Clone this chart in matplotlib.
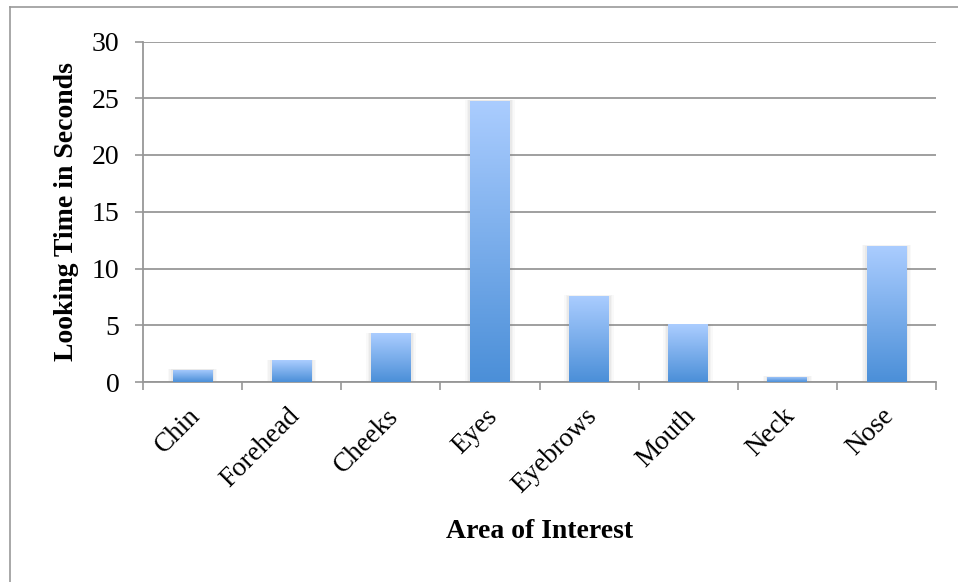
import matplotlib
matplotlib.use("Agg")
import matplotlib.pyplot as plt
import numpy as np
from matplotlib.colors import LinearSegmentedColormap
from matplotlib.patches import Rectangle
from matplotlib.lines import Line2D
from matplotlib.transforms import ScaledTranslation

categories = ["Chin", "Forehead", "Cheeks", "Eyes", "Eyebrows", "Mouth", "Neck", "Nose"]
values = [1.1, 1.9, 4.3, 24.8, 7.6, 5.1, 0.45, 12.0]
yticks = [0, 5, 10, 15, 20, 25, 30]

plt.rcParams['font.family'] = ['Liberation Serif', 'DejaVu Serif']

W, H = 958, 582
fig = plt.figure(figsize=(W / 100, H / 100), dpi=100)
ax = fig.add_axes([143 / W, 1 - 382 / H, (936 - 143) / W, (382 - 41.5) / H])

grid_c = "#979797"
cmap = LinearSegmentedColormap.from_list("g", ["#4b8fd8", "#abcdff"])
grad = np.linspace(0, 1, 256).reshape(-1, 1)

x = np.arange(len(categories))
bw = 0.4
bars = ax.bar(x, values, width=bw, color="none", zorder=3)
for b in bars:
    x0, y0 = b.get_x(), b.get_y()
    w, h = b.get_width(), b.get_height()
    # soft shadow
    for k, a in zip([0.05, 0.035, 0.02], [0.04, 0.05, 0.07]):
        ax.add_patch(Rectangle((x0 - k, y0), w + 2 * k, h + k * 1.0, facecolor="#7f7f7f",
                               alpha=a, edgecolor="none", zorder=2.5))
    im = ax.imshow(grad, extent=[x0, x0 + w, y0, y0 + h], origin="lower",
                   cmap=cmap, aspect="auto", zorder=3)
    im.set_clip_path(b)

ax.set_xlim(-0.5, len(categories) - 0.5)
ax.set_ylim(0, 30)
ax.set_yticks(yticks)
ax.set_yticklabels([str(t) for t in yticks], fontsize=20)
ax.set_xticks(x)
ax.set_xticklabels(categories, fontsize=19.5, rotation=45, ha="right",
                   rotation_mode="anchor")
ax.tick_params(axis="x", which="major", length=0, pad=12)
off = ScaledTranslation(-5 / 100, -5 / 100, fig.dpi_scale_trans)
for lbl in ax.get_xticklabels():
    lbl.set_transform(lbl.get_transform() + off)
ax.set_xticks(np.arange(-0.5, len(categories)), minor=True)
ax.tick_params(axis="x", which="minor", length=5.8, width=1.2, color=grid_c, direction="out")
ax.tick_params(axis="y", length=5.8, width=1.2, color=grid_c, direction="out", pad=11)

ax.yaxis.grid(True, color=grid_c, linewidth=1.3, zorder=0)
ax.set_axisbelow(True)
for s in ["top", "right"]:
    ax.spines[s].set_visible(False)
for s in ["left", "bottom"]:
    ax.spines[s].set_color(grid_c)
    ax.spines[s].set_linewidth(1.3)
ax.spines["left"].set_bounds(0, 30)

ax.set_ylabel("Looking Time in Seconds", fontsize=20, fontweight="bold")
ax.yaxis.label.set_va("center")
ax.yaxis.set_label_coords((67 - 143) / (936 - 143), 0.5)
ax.set_xlabel("Area of Interest", fontsize=20, fontweight="bold")
ax.xaxis.label.set_va("center")
ax.xaxis.set_label_coords(0.5, -(531 - 382) / (382 - 41.5))

# outer frame (top and left edges)
fig.add_artist(Line2D([9.5 / W, 1], [1 - 6.5 / H, 1 - 6.5 / H], color="#999999", lw=1.2,
                      transform=fig.transFigure))
fig.add_artist(Line2D([9.5 / W, 9.5 / W], [0, 1 - 6.5 / H], color="#999999", lw=1.2,
                      transform=fig.transFigure))

fig.savefig("out.png", dpi=100)
